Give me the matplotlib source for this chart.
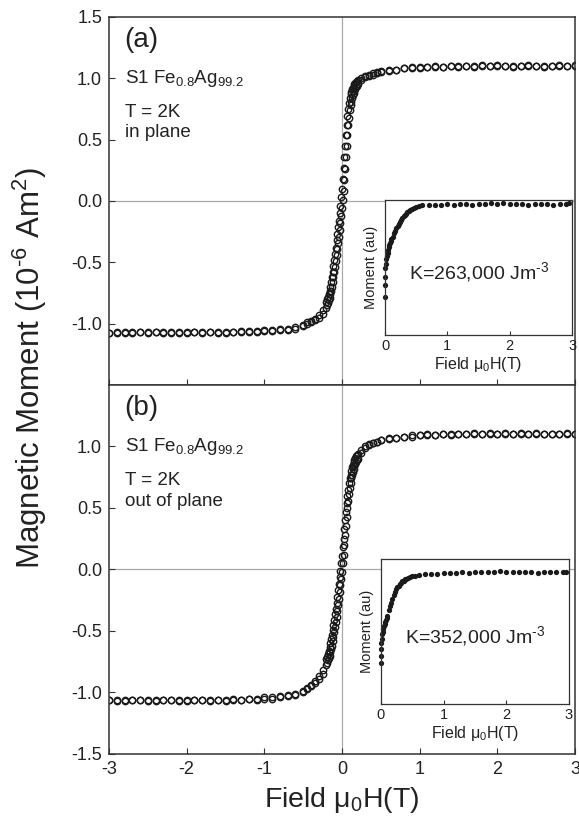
import matplotlib
matplotlib.use('Agg')
import matplotlib.pyplot as plt

plt.rcParams['font.family'] = ['Liberation Sans', 'DejaVu Sans']
plt.rcParams['mathtext.fontset'] = 'custom'
plt.rcParams['mathtext.rm'] = 'Liberation Sans'
plt.rcParams['mathtext.it'] = 'Liberation Sans:italic'
plt.rcParams['mathtext.default'] = 'regular'
plt.rcParams['axes.unicode_minus'] = False

# applied field (T), same steps for both sweep directions
field = [-3.0, -2.9, -2.8, -2.7, -2.6, -2.5, -2.4, -2.3, -2.2, -2.1,
         -2.0, -1.9, -1.8, -1.7, -1.6, -1.5, -1.4, -1.3, -1.2, -1.1,
         -1.0, -0.9, -0.8, -0.7, -0.6, -0.5,
         -0.45, -0.4, -0.35, -0.3, -0.25,
         -0.2, -0.19, -0.18, -0.17, -0.16, -0.15, -0.14, -0.13, -0.12, -0.11,
         -0.1, -0.09, -0.08, -0.07, -0.06, -0.05, -0.04, -0.03, -0.02, -0.01,
         0.0, 0.01, 0.02, 0.03, 0.04, 0.05, 0.06, 0.07, 0.08, 0.09,
         0.1, 0.11, 0.12, 0.13, 0.14, 0.15, 0.16, 0.17, 0.18, 0.19,
         0.2, 0.25, 0.3, 0.35, 0.4, 0.45,
         0.5, 0.6, 0.7, 0.8, 0.9, 1.0, 1.1, 1.2, 1.3, 1.4,
         1.5, 1.6, 1.7, 1.8, 1.9, 2.0, 2.1, 2.2, 2.3, 2.4,
         2.5, 2.6, 2.7, 2.8, 2.9, 3.0]

# (a) in plane, moment in 1e-6 Am^2
m_a_up = [-1.08, -1.07, -1.08, -1.07, -1.07, -1.08, -1.07, -1.07, -1.08, -1.07,
          -1.08, -1.07, -1.07, -1.07, -1.07, -1.08, -1.07, -1.07, -1.06, -1.07,
          -1.06, -1.06, -1.05, -1.05, -1.04, -1.02,
          -1.00, -0.99, -0.97, -0.95, -0.92,
          -0.87, -0.85, -0.83, -0.81, -0.79, -0.76, -0.73, -0.70, -0.66, -0.62,
          -0.58, -0.54, -0.49, -0.44, -0.39, -0.34, -0.29, -0.24, -0.18, -0.12,
          -0.06, 0.01, 0.08, 0.17, 0.26, 0.36, 0.45, 0.54, 0.62, 0.68,
          0.74, 0.78, 0.81, 0.84, 0.86, 0.88, 0.90, 0.915, 0.93, 0.94,
          0.95, 0.985, 1.01, 1.02, 1.03, 1.04,
          1.05, 1.06, 1.07, 1.08, 1.08, 1.08, 1.09, 1.09, 1.09, 1.10,
          1.09, 1.10, 1.10, 1.11, 1.10, 1.10, 1.10, 1.09, 1.10, 1.10,
          1.10, 1.09, 1.10, 1.10, 1.10, 1.10]
m_a_down = [-1.08, -1.08, -1.07, -1.08, -1.07, -1.07, -1.07, -1.08, -1.07, -1.08,
            -1.07, -1.07, -1.08, -1.07, -1.08, -1.07, -1.07, -1.06, -1.07, -1.06,
            -1.05, -1.05, -1.04, -1.04, -1.03, -1.01,
            -0.99, -0.98, -0.96, -0.93, -0.89,
            -0.82, -0.80, -0.78, -0.755, -0.73, -0.70, -0.66, -0.62, -0.58, -0.53,
            -0.48, -0.43, -0.38, -0.32, -0.27, -0.21, -0.16, -0.10, -0.04, 0.03,
            0.10, 0.18, 0.27, 0.36, 0.45, 0.54, 0.62, 0.69, 0.75, 0.80,
            0.84, 0.87, 0.89, 0.91, 0.925, 0.94, 0.95, 0.96, 0.97, 0.98,
            0.985, 1.005, 1.02, 1.03, 1.04, 1.05,
            1.06, 1.07, 1.07, 1.08, 1.09, 1.09, 1.09, 1.10, 1.09, 1.10,
            1.10, 1.10, 1.09, 1.10, 1.10, 1.11, 1.10, 1.10, 1.10, 1.11,
            1.10, 1.10, 1.10, 1.11, 1.10, 1.11]

# (b) out of plane
m_b_up = [-1.06, -1.06, -1.07, -1.06, -1.06, -1.06, -1.07, -1.06, -1.06, -1.06,
          -1.07, -1.06, -1.06, -1.06, -1.06, -1.07, -1.06, -1.06, -1.05, -1.06,
          -1.05, -1.05, -1.04, -1.03, -1.02, -1.00,
          -0.97, -0.95, -0.92, -0.89, -0.85,
          -0.78, -0.76, -0.74, -0.72, -0.70, -0.675, -0.65, -0.62, -0.58, -0.55,
          -0.51, -0.47, -0.43, -0.385, -0.34, -0.29, -0.24, -0.185, -0.13, -0.075,
          -0.02, 0.05, 0.12, 0.20, 0.28, 0.355, 0.43, 0.50, 0.56, 0.61,
          0.66, 0.70, 0.74, 0.77, 0.795, 0.82, 0.84, 0.86, 0.875, 0.89,
          0.90, 0.95, 0.99, 1.01, 1.03, 1.04,
          1.05, 1.06, 1.07, 1.08, 1.08, 1.09, 1.09, 1.09, 1.10, 1.09,
          1.10, 1.10, 1.10, 1.10, 1.11, 1.10, 1.10, 1.10, 1.11, 1.10,
          1.10, 1.10, 1.10, 1.10, 1.10, 1.10]
m_b_down = [-1.06, -1.07, -1.06, -1.06, -1.06, -1.07, -1.06, -1.06, -1.06, -1.07,
            -1.06, -1.06, -1.06, -1.07, -1.06, -1.06, -1.05, -1.06, -1.05, -1.05,
            -1.04, -1.04, -1.03, -1.02, -1.01, -0.99,
            -0.96, -0.94, -0.91, -0.87, -0.82,
            -0.73, -0.71, -0.685, -0.66, -0.63, -0.60, -0.565, -0.53, -0.49, -0.45,
            -0.41, -0.365, -0.32, -0.27, -0.22, -0.17, -0.12, -0.065, -0.01, 0.05,
            0.11, 0.18, 0.25, 0.325, 0.40, 0.47, 0.54, 0.60, 0.65, 0.70,
            0.74, 0.77, 0.80, 0.83, 0.85, 0.87, 0.89, 0.905, 0.92, 0.93,
            0.94, 0.975, 1.00, 1.02, 1.03, 1.04,
            1.05, 1.07, 1.07, 1.08, 1.09, 1.09, 1.10, 1.09, 1.10, 1.10,
            1.10, 1.10, 1.11, 1.10, 1.10, 1.10, 1.11, 1.10, 1.10, 1.10,
            1.11, 1.10, 1.10, 1.10, 1.11, 1.10]

# inset: normalised moment vs field from zero
inset_field = [0.0, 0.0, 0.0, 0.0, 0.01, 0.02, 0.03, 0.04, 0.05, 0.06,
               0.07, 0.08, 0.09, 0.10, 0.12, 0.14, 0.16, 0.18, 0.20, 0.22,
               0.24, 0.26, 0.28, 0.30, 0.32, 0.34, 0.36, 0.38, 0.40, 0.43,
               0.46, 0.50, 0.55, 0.60, 0.70, 0.80, 0.90, 1.00, 1.10, 1.20,
               1.30, 1.40, 1.50, 1.60, 1.70, 1.80, 1.90, 2.00, 2.10, 2.20,
               2.30, 2.40, 2.50, 2.60, 2.70, 2.80, 2.90, 2.95]
inset_a = [0.28, 0.37, 0.43, 0.50, 0.53, 0.56, 0.585, 0.61, 0.63, 0.65,
           0.665, 0.68, 0.695, 0.71, 0.73, 0.755, 0.77, 0.79, 0.81, 0.825,
           0.84, 0.85, 0.865, 0.88, 0.89, 0.90, 0.91, 0.92, 0.925, 0.935,
           0.94, 0.95, 0.955, 0.96, 0.96, 0.965, 0.965, 0.97, 0.965, 0.97,
           0.97, 0.965, 0.97, 0.97, 0.975, 0.97, 0.975, 0.97, 0.97, 0.97,
           0.965, 0.97, 0.97, 0.97, 0.965, 0.97, 0.97, 0.975]
inset_b = [0.28, 0.33, 0.38, 0.42, 0.45, 0.48, 0.50, 0.52, 0.535, 0.55,
           0.565, 0.58, 0.595, 0.61, 0.645, 0.675, 0.70, 0.725, 0.75, 0.77,
           0.79, 0.805, 0.815, 0.825, 0.835, 0.845, 0.85, 0.86, 0.865, 0.87,
           0.875, 0.88, 0.885, 0.89, 0.895, 0.90, 0.90, 0.905, 0.905, 0.905,
           0.91, 0.905, 0.91, 0.91, 0.91, 0.91, 0.915, 0.91, 0.91, 0.91,
           0.91, 0.91, 0.905, 0.91, 0.91, 0.91, 0.91, 0.91]

panels = [
    dict(label='(a)', up=m_a_up, down=m_a_down, geom='in plane',
         yticks=[-1.0, -0.5, 0.0, 0.5, 1.0, 1.5], inset=inset_a,
         K=r'K=263,000 Jm$^{\text{-}3}$',
         ax_rect=[0.1883, 0.5328, 0.8047, 0.4466],
         in_rect=[0.665, 0.5934, 0.323, 0.1638]),
    dict(label='(b)', up=m_b_up, down=m_b_down, geom='out of plane',
         yticks=[-1.5, -1.0, -0.5, 0.0, 0.5, 1.0], inset=inset_b,
         K=r'K=352,000 Jm$^{\text{-}3}$',
         ax_rect=[0.1883, 0.0850, 0.8047, 0.4478],
         in_rect=[0.658, 0.1456, 0.3247, 0.176]),
]

ink = '#222222'
fig = plt.figure(figsize=(5.79, 8.24), dpi=100)

for i, p in enumerate(panels):
    ax = fig.add_axes(p['ax_rect'])
    ax.axhline(0, color='#aaaaaa', lw=0.9, zorder=0)
    ax.axvline(0, color='#aaaaaa', lw=0.9, zorder=0)
    for m in (p['down'], p['up']):
        ax.plot(field, m, 'o', ms=4.6, mfc='none', mec='#1a1a1a', mew=1.0)
    ax.set_xlim(-3, 3)
    ax.set_ylim(-1.5, 1.5)
    ax.set_xticks([-3, -2, -1, 0, 1, 2, 3])
    ax.set_yticks(p['yticks'])
    ax.set_yticklabels(['%.1f' % v for v in p['yticks']])
    ax.tick_params(direction='in', length=4, width=0.8, labelsize=13,
                   color='#333333', labelcolor=ink, pad=5)
    if i == 0:
        ax.tick_params(labelbottom=False)
    for s in ax.spines.values():
        s.set_linewidth(1.1)
        s.set_color('#333333')

    ax.text(-2.8, 1.31, p['label'], fontsize=20, va='center', color=ink)
    ax.text(-2.8, 1.0, 'S1 Fe$_{0.8}$Ag$_{99.2}$', fontsize=13.5, va='center',
            color=ink)
    ax.text(-2.8, 0.72, 'T = 2K', fontsize=13.5, va='center', color=ink)
    ax.text(-2.8, 0.555, p['geom'], fontsize=13.5, va='center', color=ink)

    # inset: rise from remanence towards saturation
    ins = fig.add_axes(p['in_rect'])
    ins.plot(inset_field, p['inset'], 'o', ms=3.8, color='#1a1a1a', mew=0,
             clip_on=False)
    ins.set_xlim(0, 3)
    ins.set_ylim(0, 1)
    ins.set_xticks([0, 1, 2, 3])
    ins.set_yticks([])
    ins.tick_params(direction='in', length=3, width=0.8, labelsize=10.5,
                    color='#333333', labelcolor=ink, pad=3)
    ins.set_xlabel('Field μ$_0$H(T)', fontsize=11.5, labelpad=1, color=ink)
    ins.set_ylabel('Moment (au)', fontsize=10.5, labelpad=5, color=ink)
    for s in ins.spines.values():
        s.set_linewidth(0.9)
        s.set_color('#333333')
    ins.text(0.5, 0.47, p['K'], transform=ins.transAxes, fontsize=14,
             ha='center', va='center', color=ink)

fig.text(0.052, 0.553, r'Magnetic Moment (10$^{\text{-}6}$ Am$^2$)', rotation=90,
         fontsize=22.5, ha='center', va='center', color=ink)
fig.text(0.5906, 0.029, 'Field μ$_0$H(T)', fontsize=20.5, ha='center',
         va='center', color=ink)

fig.savefig('out.png', dpi=100)
